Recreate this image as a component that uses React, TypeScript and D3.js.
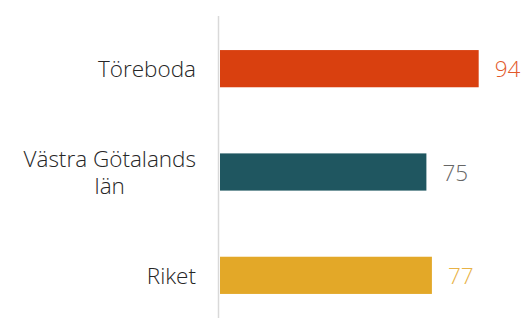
import React, { useEffect, useRef } from 'react';
import * as d3 from 'd3';

const categories = ['Töreboda', 'Västra Götalands län', 'Riket'];
const values = [94, 75, 77];
const barColors = ['#D9400F', '#1F5660', '#E3A828'];
const labelColors = ['#E2582A', '#666666', '#E8B245'];

const W = 523;
const H = 318;

const App = () => {
  const svgRef = useRef<SVGSVGElement>(null);

  useEffect(() => {
    const svg = d3.select(svgRef.current);
    svg.selectAll('*').remove();

    const x = d3.scaleLinear().domain([0, 100]).range([220, 495.2]);
    const y = d3.scaleBand().domain(categories).range([17, 327]).paddingInner(0.64).paddingOuter(0.32);

    const font = "'Open Sans', sans-serif";
    const fs = 22.5;
    const lineH = 27;

    // bars
    svg.selectAll('rect.bar')
      .data(categories)
      .enter()
      .append('rect')
      .attr('class', 'bar')
      .attr('x', x(0))
      .attr('y', d => y(d)!)
      .attr('width', (d, i) => x(values[i]) - x(0))
      .attr('height', y.bandwidth())
      .attr('fill', (d, i) => barColors[i]);

    // axis line
    svg.append('line')
      .attr('x1', 218.5).attr('x2', 218.5)
      .attr('y1', 16).attr('y2', H)
      .attr('stroke', '#d9d9d9')
      .attr('stroke-width', 1.5);

    // value labels
    svg.selectAll('text.val')
      .data(categories)
      .enter()
      .append('text')
      .attr('class', 'val')
      .attr('x', (d, i) => x(values[i]) + 16)
      .attr('y', d => y(d)! + y.bandwidth() / 2)
      .attr('dy', '0.38em')
      .attr('font-family', font)
      .attr('font-weight', 300)
      .attr('font-size', fs)
      .attr('fill', (d, i) => labelColors[i])
      .text((d, i) => values[i]);

    // category labels: one text per category, wrapped with tspans, centred in a right-aligned block
    const right = 196;
    categories.forEach(c => {
      const lines = c === 'Västra Götalands län' ? ['Västra Götalands', 'län'] : [c];
      const cy = y(c)! + y.bandwidth() / 2;
      const t = svg.append('text')
        .attr('y', cy - ((lines.length - 1) / 2) * lineH)
        .attr('font-family', font)
        .attr('font-weight', 300)
        .attr('font-size', fs)
        .attr('fill', '#262626')
        .attr('text-anchor', 'middle');
      const spans = lines.map((ln, k) =>
        t.append('tspan')
          .attr('dy', k === 0 ? '0.38em' : lineH)
          .text(ln)
      );
      const widest = d3.max(spans, s => (s.node() as SVGTSpanElement).getComputedTextLength()) || 0;
      spans.forEach(s => s.attr('x', right - widest / 2));
    });
  }, []);

  return (
    <svg ref={svgRef} width={W} height={H} style={{ position: 'absolute', left: 0, top: 0 }}></svg>
  );
};

export default App;
